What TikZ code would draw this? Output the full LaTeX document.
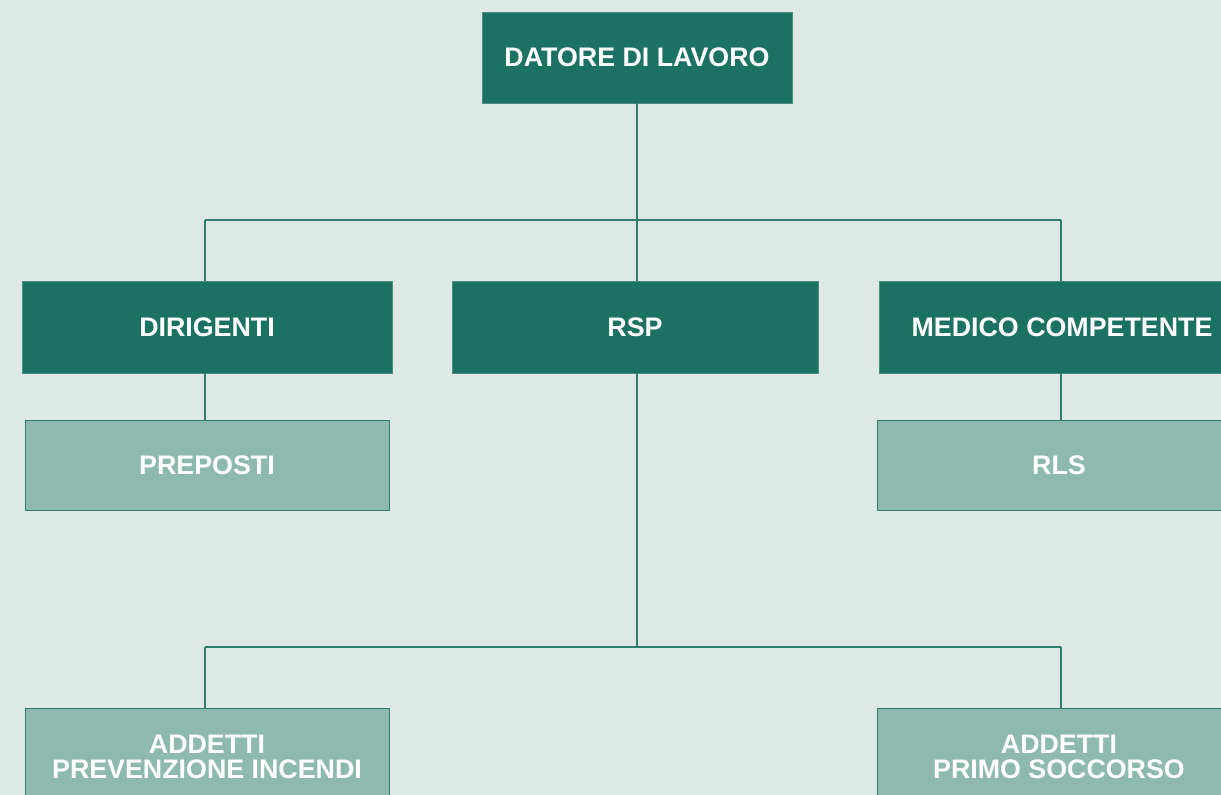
\documentclass[tikz,border=0pt]{standalone}
\usepackage{fontspec}
\setmainfont{Liberation Sans}
\definecolor{bg}{HTML}{DEE9E6}
\definecolor{dark}{HTML}{1C7262}
\definecolor{light}{HTML}{8EB9AF}
\definecolor{edge}{HTML}{2E7D6C}
\begin{document}
\begin{tikzpicture}[x=1pt,y=-1pt,
  darkbox/.style={rectangle, fill=dark, draw=dark!80!white, line width=0.8pt, text=white, inner sep=0pt,
    font=\fontsize{26.8}{25.5}\selectfont\bfseries, align=center},
  lightbox/.style={rectangle, fill=light, draw=edge, line width=1pt, text=white, inner sep=0pt,
    font=\fontsize{26.8}{25}\selectfont\bfseries, align=center},
  conn/.style={draw=edge, line width=1.5pt}]
\fill[bg] (0,0) rectangle (1221,795);
\useasboundingbox (0,0) rectangle (1221,795);
\clip (0,0) rectangle (1221,795);
\node[darkbox, minimum width=310pt, minimum height=91pt] (dl) at (637,57.5) {DATORE DI LAVORO};
\node[darkbox, minimum width=370pt, minimum height=92pt] (dir) at (207,327) {DIRIGENTI};
\node[darkbox, minimum width=366pt, minimum height=92pt] (rsp) at (635,327) {RSP};
\node[darkbox, minimum width=366pt, minimum height=92pt] (med) at (1062,327) {MEDICO COMPETENTE};
\node[lightbox, minimum width=364pt, minimum height=90pt] (prep) at (207,465) {PREPOSTI};
\node[lightbox, minimum width=364pt, minimum height=90pt] (rls) at (1059,465) {RLS};
\node[lightbox, minimum width=364pt, minimum height=98pt] (api) at (207,757) {ADDETTI\\PREVENZIONE INCENDI};
\node[lightbox, minimum width=364pt, minimum height=98pt] (aps) at (1059,757) {ADDETTI\\PRIMO SOCCORSO};
\coordinate (j1) at (637,220);
\coordinate (j2) at (637,647);
\coordinate (l1) at (205,220);
\coordinate (r1) at (1061,220);
\coordinate (l2) at (205,647);
\coordinate (r2) at (1061,647);
\draw[conn] (dl.south) -- (j1);
\draw[conn] (l1) -- (r1);
\draw[conn] (l1) -- (l1 |- dir.north);
\draw[conn] (j1) -- (j1 |- rsp.north);
\draw[conn] (r1) -- (r1 |- med.north);
\draw[conn] (l1 |- dir.south) -- (l1 |- prep.north);
\draw[conn] (r1 |- med.south) -- (r1 |- rls.north);
\draw[conn] (j1 |- rsp.south) -- (j2);
\draw[conn] (l2) -- (r2);
\draw[conn] (l2) -- (l2 |- api.north);
\draw[conn] (r2) -- (r2 |- aps.north);
\end{tikzpicture}
\end{document}
